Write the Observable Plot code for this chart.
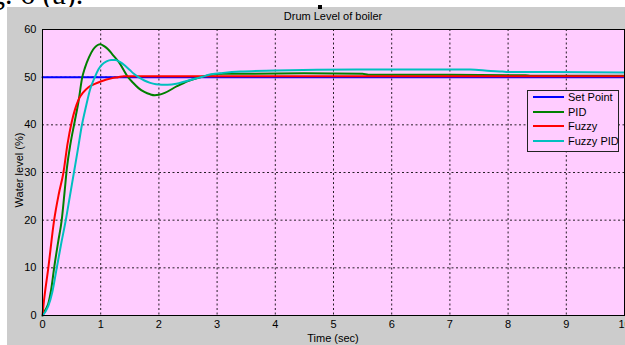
<!DOCTYPE html>
<html>
<head>
<meta charset="utf-8">
<script src="https://cdn.jsdelivr.net/npm/d3@7"></script>
<script src="https://cdn.jsdelivr.net/npm/@observablehq/plot@0.6"></script>
<style>
  html, body { margin: 0; padding: 0; background: #fff; }
  #page { position: relative; width: 625px; height: 345px; overflow: hidden; background: #fff; font-family: "Liberation Sans", Arial, sans-serif; }
  #fig { position: absolute; left: -35px; top: -21px; font-family: "Liberation Serif", "Times New Roman", serif; font-size: 30px; line-height: 30px; color: #000; white-space: nowrap; }
  #mark { position: absolute; left: 318px; top: 5px; width: 4px; height: 4px; background: #000; z-index: 3; }
  #panel { position: absolute; left: 7px; top: 7px; width: 618px; height: 338px; background: #cccccc; }
  #title { position: absolute; left: 35px; width: 582px; top: 1px; text-align: center; font-size: 11px; line-height: 16px; color: #000; }
  #chart { position: absolute; left: 0; top: 16px; }
  #ylab { position: absolute; left: 12px; top: 163px; width: 0; height: 0; }
  #ylab span { position: absolute; transform: translate(-50%, -50%) rotate(-90deg); white-space: nowrap; font-size: 11px; }
  #xlab { position: absolute; left: 35px; width: 582px; top: 324px; text-align: center; font-size: 11px; line-height: 14px; }
  #legend { position: absolute; left: 527px; top: 90px; width: 90px; height: 60px; border: 1px solid #222; background: #ffccff; z-index: 2; }
  .item { position: absolute; left: 0; height: 14px; font-size: 11px; line-height: 14px; white-space: nowrap; }
  .item i { position: absolute; left: 5px; top: 6px; width: 31px; height: 2px; }
  .item span { position: absolute; left: 40px; top: 0; }
</style>
</head>
<body>
<div id="page">
  <div id="fig">Fig. 6 (a).</div>
  <div id="mark"></div>
  <div id="panel">
    <div id="title">Drum Level of boiler</div>
    <div id="chart"></div>
    <div id="ylab"><span>Water level (%)</span></div>
    <div id="xlab">Time (sec)</div>
  </div>
  <div id="legend"></div>
</div>
<script>
// ---- data ----
const seriesNames = ["Set Point", "PID", "Fuzzy", "Fuzzy PID"];
const seriesColors = ["#0000ff", "#008000", "#ff0000", "#00bfbf"];

const xTicks = [0, 1, 2, 3, 4, 5, 6, 7, 8, 9, 10];
const yTicks = [0, 10, 20, 30, 40, 50, 60];

const setPointT = [0, 10];
const setPointV = [50, 50];

const pidT = [0, 0.05, 0.1, 0.15, 0.2, 0.27, 0.33, 0.38, 0.42, 0.48, 0.55, 0.62, 0.68, 0.73, 0.8, 0.87, 0.93, 0.99, 1.06, 1.13, 1.2, 1.31, 1.47, 1.55, 1.65, 1.75, 1.85, 1.93, 2.0, 2.1, 2.31, 2.5, 2.71, 2.9, 3.1, 4.5, 5.5, 5.6, 7, 8.3, 8.4, 10];
const pidV = [0, 1.2, 2.5, 5.5, 10, 15.5, 20, 26, 31, 36, 40.5, 45, 49.8, 52, 54.2, 55.8, 56.6, 56.9, 56.5, 55.8, 54.8, 53.2, 50.0, 48.9, 47.7, 46.9, 46.4, 46.2, 46.3, 46.7, 48.1, 49.2, 50.0, 50.5, 50.7, 50.8, 50.7, 50.5, 50.5, 50.4, 50.3, 50.3];

const fuzzyT = [0, 0.02, 0.1, 0.2, 0.28, 0.36, 0.43, 0.5, 0.56, 0.62, 0.7, 0.79, 0.9, 1.0, 1.1, 1.2, 1.3, 1.4, 1.6, 2, 10];
const fuzzyV = [0, 2.5, 10, 20, 25.5, 30, 36, 40.5, 43.3, 45.3, 46.8, 47.9, 48.6, 49.1, 49.5, 49.8, 50.0, 50.2, 50.2, 50.2, 50.2];

const fuzzyPidT = [0, 0.05, 0.1, 0.17, 0.245, 0.32, 0.4, 0.47, 0.54, 0.61, 0.67, 0.75, 0.82, 0.9, 0.96, 1.02, 1.1, 1.18, 1.25, 1.33, 1.42, 1.5, 1.57, 1.65, 1.75, 1.85, 1.95, 2.05, 2.15, 2.3, 2.45, 2.6, 2.75, 2.9, 3.1, 3.4, 4, 5.4, 7.35, 7.7, 7.9, 8.0, 8.7, 10];
const fuzzyPidV = [0, 0.8, 2, 5, 10, 15, 20, 25, 30, 35, 39.5, 44, 47.5, 50, 51.6, 52.6, 53.3, 53.6, 53.6, 53.2, 52.4, 51.5, 50.7, 50.0, 49.3, 48.8, 48.5, 48.4, 48.4, 48.6, 49.1, 49.6, 50.1, 50.6, 50.9, 51.2, 51.4, 51.6, 51.6, 51.3, 51.2, 51.1, 51.1, 51.0];

// ---- build rows ----
const rows = (ts, vs) => ts.map((t, i) => ({t, v: vs[i]}));
const seriesData = [
  rows(setPointT, setPointV),
  rows(pidT, pidV),
  rows(fuzzyT, fuzzyV),
  rows(fuzzyPidT, fuzzyPidV)
];

const gridStyle = {stroke: "#000", strokeOpacity: 0.85, strokeDasharray: "2,2.5", strokeWidth: 1};

const chart = Plot.plot({
  width: 618,
  height: 322,
  marginLeft: 35,
  marginRight: 1,
  marginTop: 6,
  marginBottom: 30,
  style: {background: "transparent", fontFamily: "'Liberation Sans', Arial, sans-serif", fontSize: "11px", color: "#000", overflow: "visible"},
  x: {domain: [0, 10]},
  y: {domain: [0, 60]},
  marks: [
    Plot.frame({fill: "#ffccff", stroke: "none"}),
    Plot.gridX({ticks: xTicks, ...gridStyle}),
    Plot.gridY({ticks: yTicks, ...gridStyle}),
    Plot.axisX({ticks: xTicks, tickSize: 0, tickPadding: 5, label: null, tickFormat: d => String(d)}),
    Plot.axisY({ticks: yTicks, tickSize: 0, tickPadding: 6, label: null, tickFormat: d => String(d)}),
    ...seriesData.map((d, i) => Plot.line(d, {x: "t", y: "v", stroke: seriesColors[i], strokeWidth: 2, curve: i === 0 ? "linear" : "monotone-x"})),
    Plot.frame({stroke: "#000", strokeWidth: 1})
  ]
});
document.getElementById("chart").appendChild(chart);

// ---- legend ----
const legend = document.getElementById("legend");
seriesNames.forEach((name, i) => {
  const item = document.createElement("div");
  item.className = "item";
  item.style.top = (-1 + i * 14.7) + "px";
  const sw = document.createElement("i");
  sw.style.background = seriesColors[i];
  const label = document.createElement("span");
  label.textContent = name;
  item.appendChild(sw);
  item.appendChild(label);
  legend.appendChild(item);
});
</script>
</body>
</html>
